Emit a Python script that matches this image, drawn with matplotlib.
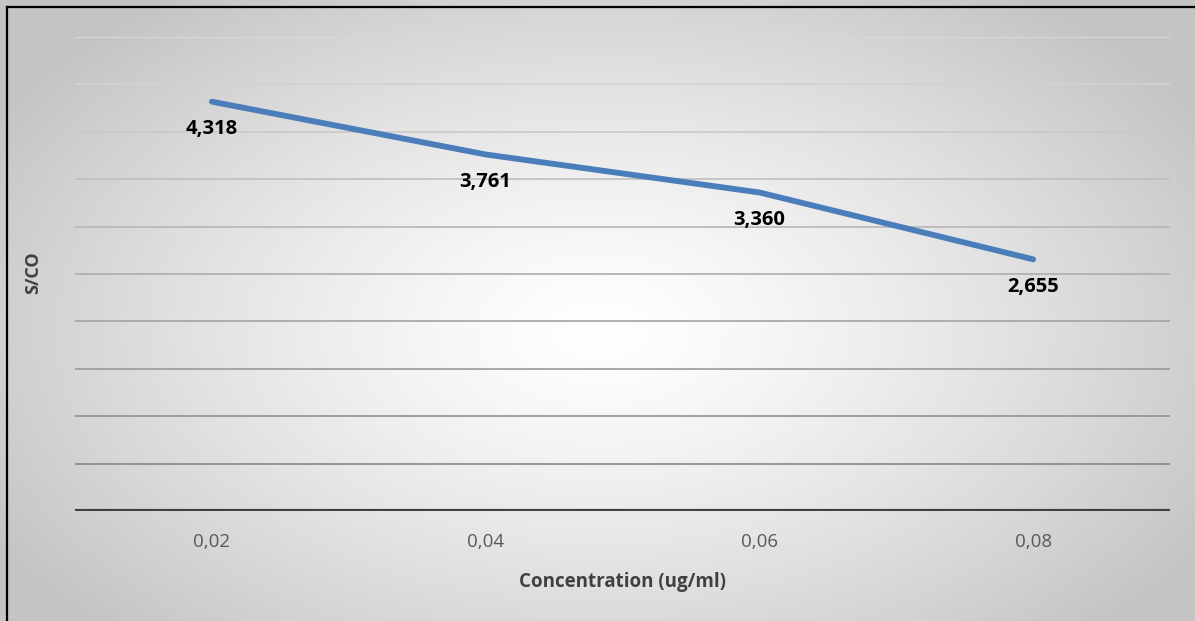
import numpy as np
import matplotlib
matplotlib.use("Agg")
import matplotlib.pyplot as plt
from matplotlib.lines import Line2D

# Données : rapport S/CO selon la concentration
concentrations = ["0,02", "0,04", "0,06", "0,08"]
s_co = [4.318, 3.761, 3.360, 2.655]
grid_levels = [0.5, 1.0, 1.5, 2.0, 2.5, 3.0, 3.5, 4.0, 4.5, 5.0]

plt.rcParams['font.family'] = ['Open Sans', 'DejaVu Sans']

fig = plt.figure(figsize=(11.95, 6.21), dpi=100)

# Fond en dégradé radial (blanc au centre, gris sur les bords)
bg = fig.add_axes([0, 0, 1, 1], zorder=0)
h, w = 621, 1195
yy, xx = np.mgrid[0:h, 0:w]
d = np.sqrt(((xx - 600) / 700.0) ** 2 + ((yy - 330) / 420.0) ** 2)
d = np.clip(d, 0, 1)
shade = 1.0 - 0.23 * d ** 1.3
bg.imshow(np.dstack([shade] * 3), extent=[0, 1, 0, 1], aspect='auto', interpolation='bilinear')
bg.set_xlim(0, 1)
bg.set_ylim(0, 1)
bg.axis('off')

# Cadre (haut et gauche)
fig.add_artist(Line2D([7 / w, 7 / w], [0, 1 - 7 / h], color='black', lw=1.6, transform=fig.transFigure, zorder=5))
fig.add_artist(Line2D([7 / w, 1], [1 - 7 / h, 1 - 7 / h], color='black', lw=1.6, transform=fig.transFigure, zorder=5))

ax = fig.add_axes([75 / w, 1 - 511 / h, (1170 - 75) / w, (511 - 37) / h], zorder=1)
ax.patch.set_alpha(0)
x = np.arange(len(concentrations))

# Quadrillage horizontal, plus foncé vers le bas
for i, lvl in enumerate(grid_levels):
    t = i / (len(grid_levels) - 1)
    g = 0.53 + t * (0.86 - 0.53)
    ax.axhline(lvl, color=(g, g, g), lw=1.2, zorder=1)
ax.axhline(0, color='#404040', lw=3.0, zorder=2)

ax.plot(x, s_co, color='#4a7ebb', lw=4.2, solid_capstyle='round', solid_joinstyle='round', zorder=3)

for xi, v in zip(x, s_co):
    ax.annotate(f"{v:.3f}".replace('.', ','), (xi, v), xytext=(0, -20), textcoords='offset points',
                ha='center', va='center', fontsize=14.5, fontweight='bold', color='black', zorder=4)

ax.set_xlim(-0.5, len(concentrations) - 0.5)
ax.set_ylim(0, 5)
ax.set_xticks(x)
ax.set_xticklabels(concentrations, fontsize=13.5, color='#595959')
ax.set_yticks([])
ax.tick_params(axis='x', length=0, pad=16)
for s in ax.spines.values():
    s.set_visible(False)

ax.set_xlabel("Concentration (ug/ml)", fontsize=13.5, fontweight='bold', color='#404040', labelpad=15)
fig.text(33 / w, 1 - 273 / h, "S/CO", rotation=90, ha='center', va='center',
         fontsize=13, fontweight='bold', color='#404040')

fig.savefig("out.png", dpi=100)
